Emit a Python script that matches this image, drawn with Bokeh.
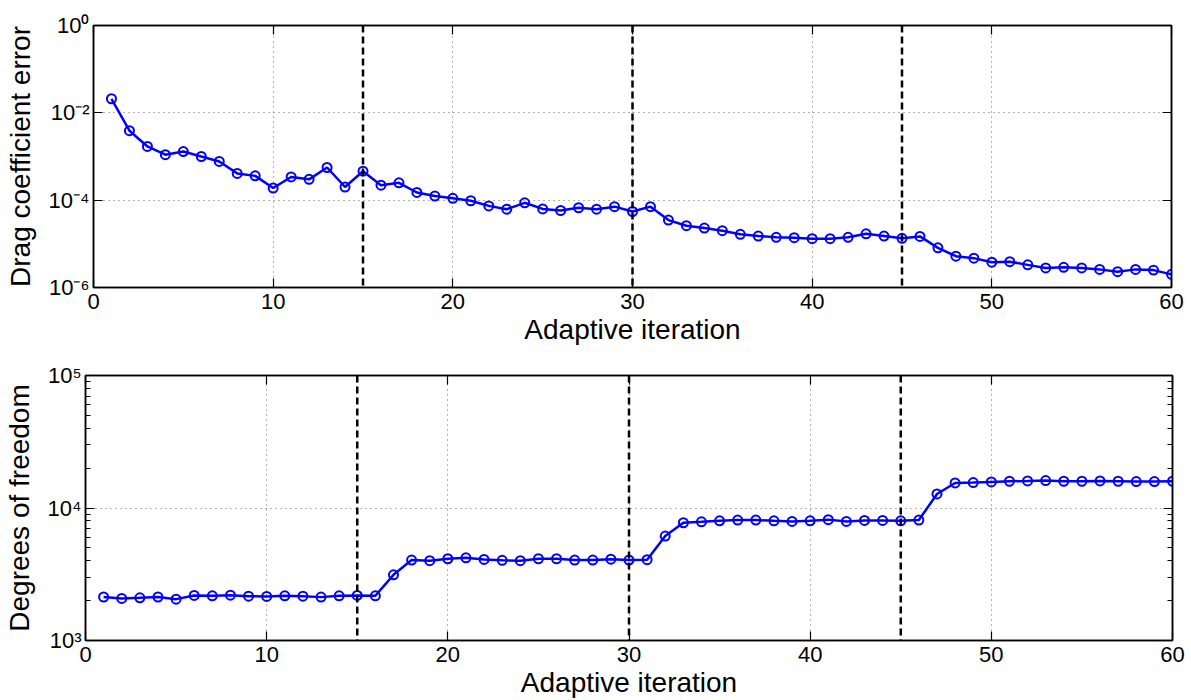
from bokeh.plotting import figure
from bokeh.layouts import column, row
from bokeh.models import (FixedTicker, CustomJSTickFormatter, LinearAxis, LogAxis, Span, Range1d)
from bokeh.embed import file_html
from bokeh.resources import INLINE

# ---------------- data ----------------
iterations = list(range(1, 61))

drag_error = [
    0.021, 0.0039, 0.0017, 0.0011, 0.0013, 0.0010, 0.00077, 0.00041, 0.00036, 0.00019,
    0.00034, 0.00030, 0.00056, 0.00020, 0.00046, 0.00022, 0.00025, 0.00015, 0.000124, 0.00011,
    0.000097, 0.000074, 0.000062, 0.000087, 0.000063, 0.000058, 0.000067, 0.000062, 0.000071, 0.000055,
    0.000071, 0.000035, 0.000026, 0.000023, 0.000020, 0.0000165, 0.0000151, 0.0000141, 0.0000138, 0.0000131,
    0.0000131, 0.0000141, 0.0000170, 0.0000151, 0.0000134, 0.0000148, 0.0000081, 0.0000052, 0.0000047, 0.0000038,
    0.0000039, 0.0000033, 0.0000028, 0.0000029, 0.0000028, 0.0000026, 0.0000023, 0.0000026, 0.0000025, 0.0000020,
]

dofs = [
    2130, 2077, 2098, 2130, 2052, 2188, 2175, 2198, 2160, 2150,
    2175, 2160, 2125, 2175, 2188, 2175, 3130, 4045, 4000, 4140,
    4210, 4090, 4030, 4000, 4140, 4140, 4045, 4045, 4110, 4045,
    4070, 6140, 7740, 7870, 8010, 8110, 8110, 8010, 7920, 8010,
    8170, 7920, 8060, 8060, 8010, 8110, 12760, 15450, 15550, 15740,
    15920, 16000, 16100, 15920, 15920, 16000, 15920, 15830, 15830, 15920,
]

refinement_iters = [15, 30, 45]

x_ticks = [0, 10, 20, 30, 40, 50, 60]
top_y_ticks = [1e-6, 1e-4, 1e-2, 1e0]
bot_y_ticks = [1e3, 1e4, 1e5]
bot_y_minor = [m * 10 ** e for e in (3, 4) for m in range(2, 10)]

x_label = "Adaptive iteration"
top_y_label = "Drag coefficient error"
bot_y_label = "Degrees of freedom"

# ---------------- styling ----------------
FONT = "Liberation Sans"
BLUE = "#0000FF"

sup_fmt = CustomJSTickFormatter(code="""
const m = {'0':'\u2070','1':'\u00b9','2':'\u00b2','3':'\u00b3','4':'\u2074','5':'\u2075',
           '6':'\u2076','7':'\u2077','8':'\u2078','9':'\u2079','-':'\u207b'};
const e = Math.round(Math.log10(tick)).toString();
let s = '';
for (const c of e) { s += m[c]; }
return '10' + s;
""")


def style_axis(ax, labels=True):
    ax.axis_line_color = "black"
    ax.axis_line_width = 1.5
    ax.major_tick_line_color = "black"
    ax.major_tick_line_width = 1.2
    ax.major_tick_in = 9
    ax.major_tick_out = 0
    ax.minor_tick_line_color = "black"
    ax.minor_tick_in = 5
    ax.minor_tick_out = 0
    ax.major_label_text_font = FONT
    ax.major_label_text_font_size = "22px"
    ax.major_label_text_color = "black"
    ax.axis_label_text_font = FONT
    ax.axis_label_text_font_size = "28px"
    ax.axis_label_text_font_style = "normal"
    ax.axis_label_text_color = "black"
    if not labels:
        ax.major_label_text_font_size = "0px"
        ax.major_label_text_alpha = 0


def make_panel(y, y_range, y_ticks, y_minor, y_label, left, top, bottom, fh, lab_standoff):
    p = figure(
        frame_width=1171 - left, frame_height=fh,
        x_range=Range1d(0, 60), y_range=Range1d(*y_range),
        y_axis_type="log", output_backend="svg", toolbar_location=None,
        min_border_left=left, min_border_right=20, min_border_top=top, min_border_bottom=bottom,
        background_fill_color="white", border_fill_color="white",
    )
    p.outline_line_color = "black"
    p.outline_line_width = 1.5

    xt = FixedTicker(ticks=x_ticks, minor_ticks=[])
    yt = FixedTicker(ticks=y_ticks, minor_ticks=y_minor)

    p.xaxis.ticker = xt
    p.yaxis.ticker = yt
    p.yaxis.formatter = sup_fmt
    p.xaxis.axis_label = x_label
    p.yaxis.axis_label = y_label
    for ax in p.xaxis + p.yaxis:
        style_axis(ax)
    p.xaxis.major_label_standoff = 6
    p.xaxis.axis_label_standoff = 2
    p.yaxis.major_label_standoff = 4
    p.yaxis.axis_label_standoff = lab_standoff

    top_ax = LinearAxis(ticker=xt)
    style_axis(top_ax, labels=False)
    p.add_layout(top_ax, "above")
    right_ax = LogAxis(ticker=yt)
    style_axis(right_ax, labels=False)
    p.add_layout(right_ax, "right")

    p.xgrid.ticker = xt
    p.ygrid.ticker = FixedTicker(ticks=y_ticks, minor_ticks=[])
    for g in (p.xgrid, p.ygrid):
        g.grid_line_color = "#666666"
        g.grid_line_width = 1
        g.grid_line_dash = "1 4"

    for it in refinement_iters:
        p.add_layout(Span(location=it, dimension="height", line_color="black",
                          line_width=2.5, line_dash="7 4"))

    p.line(iterations, y, line_color=BLUE, line_width=2.5)
    p.scatter(iterations, y, marker="circle", size=9, fill_color=None,
              line_color=BLUE, line_width=2)
    return p


p1 = make_panel(drag_error, (1e-6, 1e0), top_y_ticks, [], top_y_label,
                left=93, top=25, bottom=73, fh=262, lab_standoff=10)
p2 = make_panel(dofs, (1e3, 1e5), bot_y_ticks, bot_y_minor, bot_y_label,
                left=84, top=15, bottom=60, fh=265, lab_standoff=10)

layout = column(row(p1), row(p2), spacing=0)

open("out.html", "w").write(file_html(layout, INLINE))
